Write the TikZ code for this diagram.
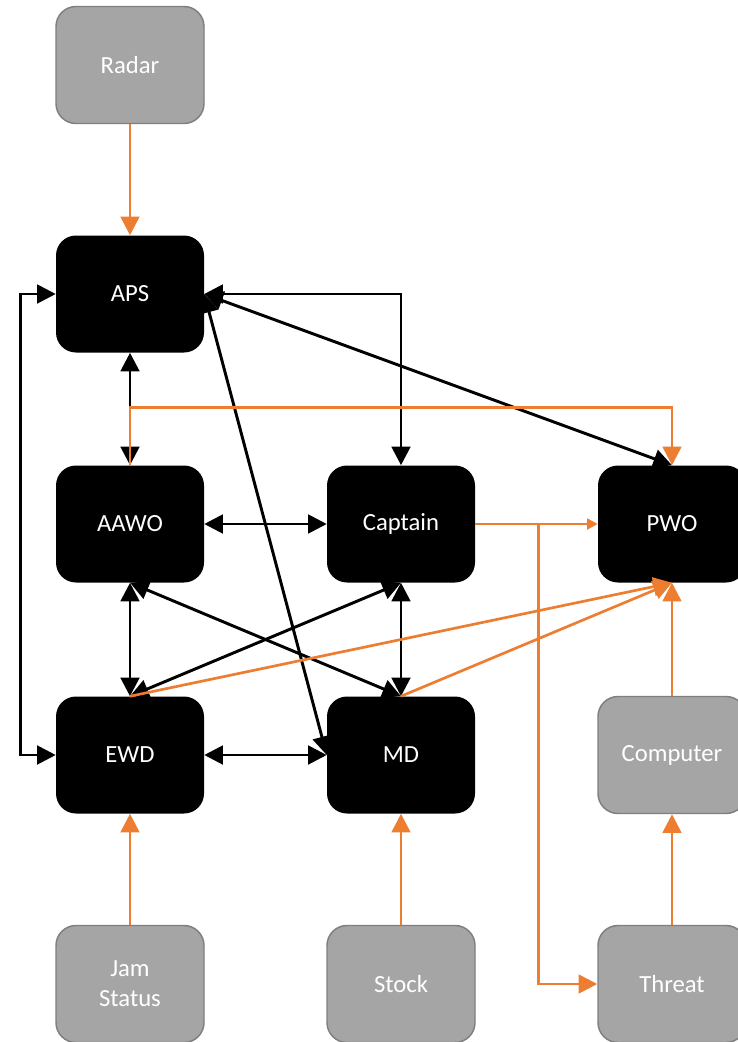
\documentclass[tikz,border=0pt]{standalone}
\usepackage{fontspec}
\setmainfont{Carlito}
\usetikzlibrary{arrows.meta,positioning,calc}
\definecolor{feedorange}{HTML}{ED7D31}
\definecolor{srcgray}{HTML}{A5A5A5}
\definecolor{srcedge}{HTML}{7F7F7F}

\begin{document}
\begin{tikzpicture}[x=0.75pt,y=-0.75pt,
 box/.style={rounded corners=15pt,minimum width=111pt,minimum height=87.75pt,inner sep=0pt,text=white,font=\fontsize{18.5}{22.5}\selectfont,align=center},
 role/.style={box,fill=black},
 src/.style={box,fill=srcgray,draw=srcedge,line width=1.1pt},
 link/.style={line width=2.2pt,{Triangle[length=14pt,width=14pt]}-{Triangle[length=14pt,width=14pt]}},
 feed/.style={draw=feedorange,line width=2pt,-{Triangle[length=14pt,width=14pt]}}]
\useasboundingbox[fill=white] (0,0) rectangle (738,1042);
\node[src] (radar) at (130,65) {Radar};
\node[role] (aps) at (130,294) {APS};
\node[role] (aawo) at (130,524) {AAWO};\node[role] (captain) at (401,524) {Captain};\node[role] (pwo) at (672,524) {PWO};
\node[role] (ewd) at (130,755) {EWD};\node[role] (md) at (401,755) {MD};\node[src] (computer) at (672,755) {Computer};
\node[src] (jam) at (130,984) {Jam\\Status};\node[src] (stock) at (401,984) {Stock};\node[src] (threat) at (672,984) {Threat};
\draw[link] (aps.south)--(aawo.north);\draw[link] (aawo.south)--(ewd.north);\draw[link] (captain.south)--(md.north);
\draw[link] (aawo.east)--(captain.west);\draw[link] (ewd.east)--(md.west);
\draw[link] (aps.west)--++(-35,0)|-(ewd.west);\draw[link] (aps.east)-|(captain.north);
\draw[link] (aps.east)--(pwo.north);\draw[link] (aps.east)--(md.west);
\draw[link] (aawo.south)--(md.north);\draw[link] (captain.south)--(ewd.north);
\draw[feed] (radar)--(aps);\draw[feed] (aawo.north)--++(0,-58)-|(pwo.north);
\draw[feed,-{Triangle[length=8pt,width=8pt]}] (captain.east)--(pwo.west);\draw[feed] (captain.east)--++(63,0)|-(threat.west);
\draw[feed] (ewd.north)--(pwo.south);\draw[feed] (md.north)--(pwo.south);
\draw[feed] (computer)--(pwo);\draw[feed] (threat)--(computer);
\draw[feed] (jam)--(ewd);\draw[feed] (stock)--(md);
\end{tikzpicture}
\end{document}
